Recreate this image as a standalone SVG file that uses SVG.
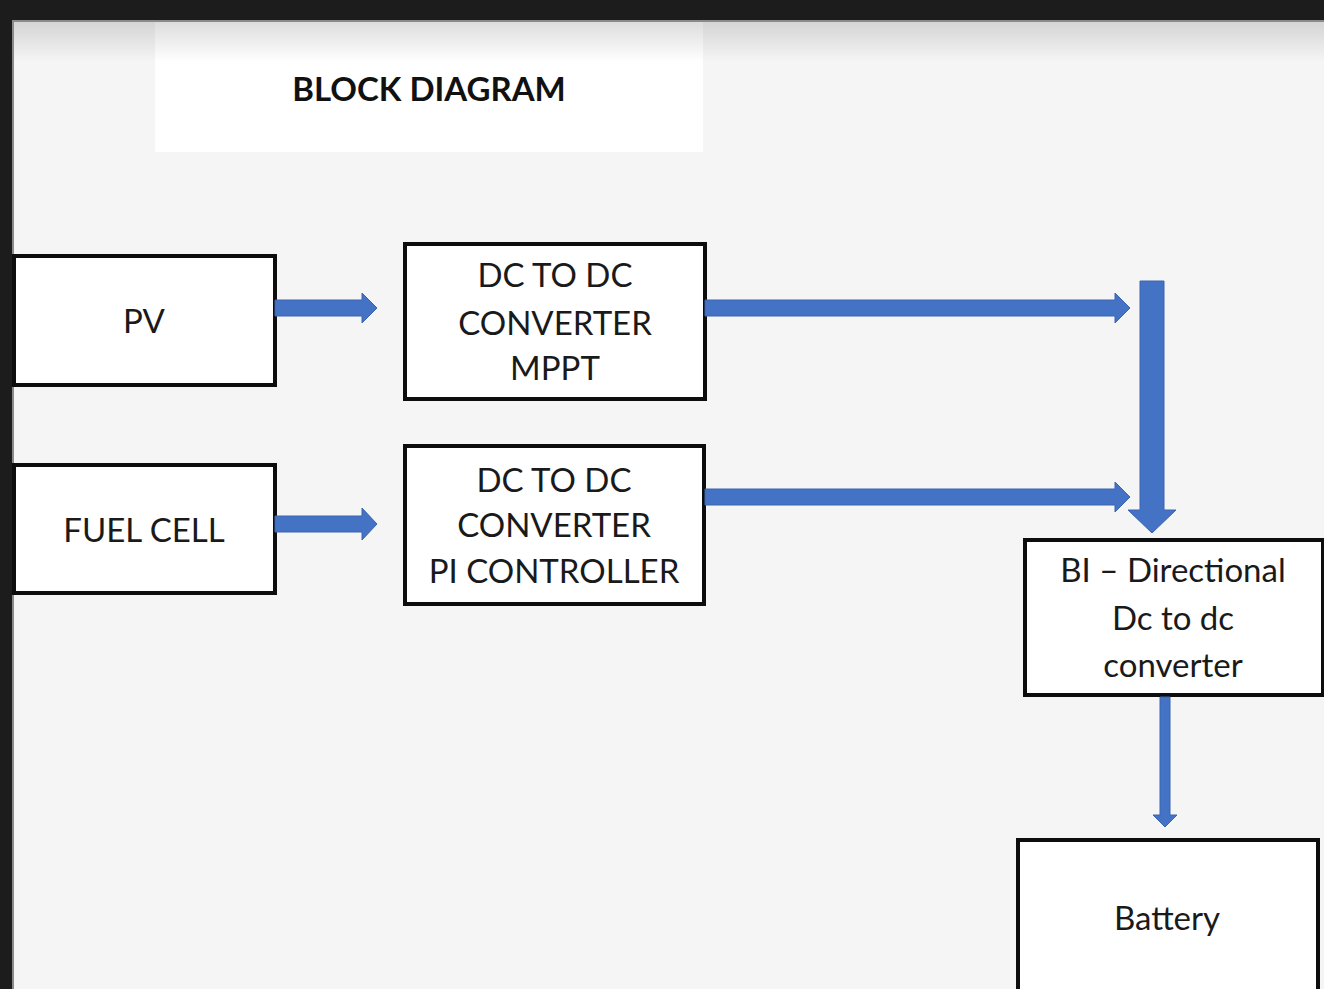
<svg xmlns="http://www.w3.org/2000/svg" width="1324" height="989" viewBox="0 0 1324 989">
  <defs>
    <linearGradient id="topShade" x1="0" y1="0" x2="0" y2="1">
      <stop offset="0" stop-color="#000" stop-opacity="0.14"/>
      <stop offset="1" stop-color="#000" stop-opacity="0"/>
    </linearGradient>
    <style>
      .box { fill: #ffffff; stroke: #0d0d0d; stroke-width: 4; }
      .lbl { font-family: Lato, "Open Sans", "Liberation Sans", sans-serif; font-size: 33px; fill: #1a1a1a; text-anchor: middle; }
      .arrow { fill: #4472c4; stroke: #3a64b0; stroke-width: 1; }
      .title { font-family: Lato, "Open Sans", "Liberation Sans", sans-serif; font-size: 33px; font-weight: bold; fill: #111; text-anchor: middle; }
    </style>
  </defs>

  <!-- background and frame -->
  <rect x="0" y="0" width="1324" height="989" fill="#f5f5f5"/>
  <rect x="155" y="20" width="548" height="132" fill="#ffffff"/>
  <rect x="12" y="20" width="1312" height="42" fill="url(#topShade)"/>
  <rect x="0" y="0" width="1324" height="20" fill="#1c1c1c"/>
  <rect x="0" y="0" width="12" height="989" fill="#1c1c1c"/>
  <rect x="12" y="20" width="2" height="969" fill="#8a8a8a"/>
  <rect x="12" y="20" width="1312" height="2" fill="#8a8a8a"/>

  <g id="title">
    <text class="title" x="429" y="101">BLOCK DIAGRAM</text>
  </g>

  <g id="pv">
    <rect class="box" x="14" y="256" width="261" height="129"/>
    <text class="lbl" x="144" y="333">PV</text>
  </g>

  <g id="fuel-cell">
    <rect class="box" x="14" y="465" width="261" height="128"/>
    <text class="lbl" x="144" y="542">FUEL CELL</text>
  </g>

  <g id="dcdc-mppt">
    <rect class="box" x="405" y="244" width="300" height="155"/>
    <text class="lbl" x="555" y="287">DC TO DC</text>
    <text class="lbl" x="555" y="335">CONVERTER</text>
    <text class="lbl" x="555" y="380">MPPT</text>
  </g>

  <g id="dcdc-pi">
    <rect class="box" x="405" y="446" width="299" height="158"/>
    <text class="lbl" x="554" y="492">DC TO DC</text>
    <text class="lbl" x="554" y="537">CONVERTER</text>
    <text class="lbl" x="554" y="583">PI CONTROLLER</text>
  </g>

  <g id="bidirectional">
    <rect class="box" x="1025" y="540" width="298" height="155"/>
    <text class="lbl" x="1173" y="582">BI – Directional</text>
    <text class="lbl" x="1173" y="630">Dc to dc</text>
    <text class="lbl" x="1173" y="677">converter</text>
  </g>

  <g id="battery">
    <rect class="box" x="1018" y="840" width="300" height="200"/>
    <text class="lbl" x="1167" y="930">Battery</text>
  </g>

  <g id="connectors">
    <polygon class="arrow" points="275,300 362,300 362,293 377,308 362,323 362,316 275,316"/>
    <polygon class="arrow" points="275,516 362,516 362,508 377,524 362,540 362,532 275,532"/>
    <polygon class="arrow" points="705,300 1115,300 1115,293 1130,308 1115,323 1115,316 705,316"/>
    <polygon class="arrow" points="705,489 1115,489 1115,482 1130,497 1115,512 1115,505 705,505"/>
    <polygon class="arrow" points="1140,281 1164,281 1164,510 1176,510 1152,533 1128,510 1140,510"/>
    <polygon class="arrow" points="1160,697 1170,697 1170,815 1177,815 1165,827 1153,815 1160,815"/>
  </g>
</svg>
